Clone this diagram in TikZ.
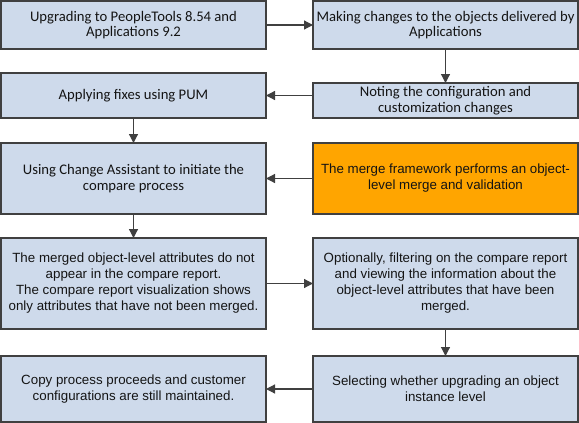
\documentclass[tikz,border=0pt]{standalone}
\usepackage{fontspec}
\setmainfont{Liberation Sans}
\newfontfamily\calfont{Carlito}
\usetikzlibrary{arrows.meta}
\definecolor{boxblue}{RGB}{206,218,235}
\definecolor{boxorange}{RGB}{255,165,0}
\definecolor{edgegray}{RGB}{64,64,64}
\definecolor{txt}{RGB}{20,20,20}
\tikzset{
  box/.style={draw=edgegray, line width=1.4pt, fill=boxblue, text=txt, align=center, inner sep=0pt, outer sep=0pt, minimum width=265pt},
  orangebox/.style={box, fill=boxorange},
  calitext/.style={font=\calfont\fontsize{14.67}{15.5}\selectfont},
  arialtext/.style={font=\fontsize{13.33}{16}\selectfont},
  arr/.style={draw=edgegray, line width=1.2pt, -{Triangle[length=9pt,width=9pt]}}
}
\begin{document}
\begin{tikzpicture}[x=1pt,y=-1pt]
\useasboundingbox (0,0) rectangle (579,423);
\node[box,calitext,minimum height=48pt] (A) at (133.5,25) {Upgrading to PeopleTools 8.54 and\\Applications 9.2};
\node[box,calitext,minimum height=48pt] (B) at (445.5,25) {Making changes to the objects delivered by\\Applications};
\node[box,calitext,minimum height=35pt] (C) at (445.5,100.5) {Noting the configuration and\\customization changes};
\node[box,calitext,minimum height=45pt] (D) at (133.5,95.5) {Applying fixes using PUM};
\node[box,calitext,minimum height=71pt] (E) at (133.5,178.5) {Using Change Assistant to initiate the\\compare process};
\node[orangebox,arialtext,minimum height=71pt] (F) at (445.5,178.5) {The merge framework performs an object-\\level merge and validation};
\node[box,arialtext,minimum height=91pt] (G) at (133.5,283.5) {The merged object-level attributes do not\\appear in the compare report.\\The compare report visualization shows\\only attributes that have not been merged.};
\node[box,arialtext,minimum height=91pt] (H) at (445.5,283.5) {Optionally, filtering on the compare report\\and viewing the information about the\\object-level attributes that have been\\merged.};
\node[box,arialtext,minimum height=66pt] (I) at (445.5,389) {Selecting whether upgrading an object\\instance level};
\node[box,arialtext,minimum height=66pt] (J) at (133.5,389) {Copy process proceeds and customer\\configurations are still maintained.};
\draw[arr] (A.east) -- (B.west);
\draw[arr] (B.south) -- (C.north);
\draw[arr] (C.west |- D.east) -- (D.east);
\draw[arr] (D.south) -- (E.north);
\draw[arr] (F.west) -- (E.east);
\draw[arr] (E.south) -- (G.north);
\draw[arr] (G.east) -- (H.west);
\draw[arr] (H.south) -- (I.north);
\draw[arr] (I.west) -- (J.east);
\end{tikzpicture}
\end{document}
